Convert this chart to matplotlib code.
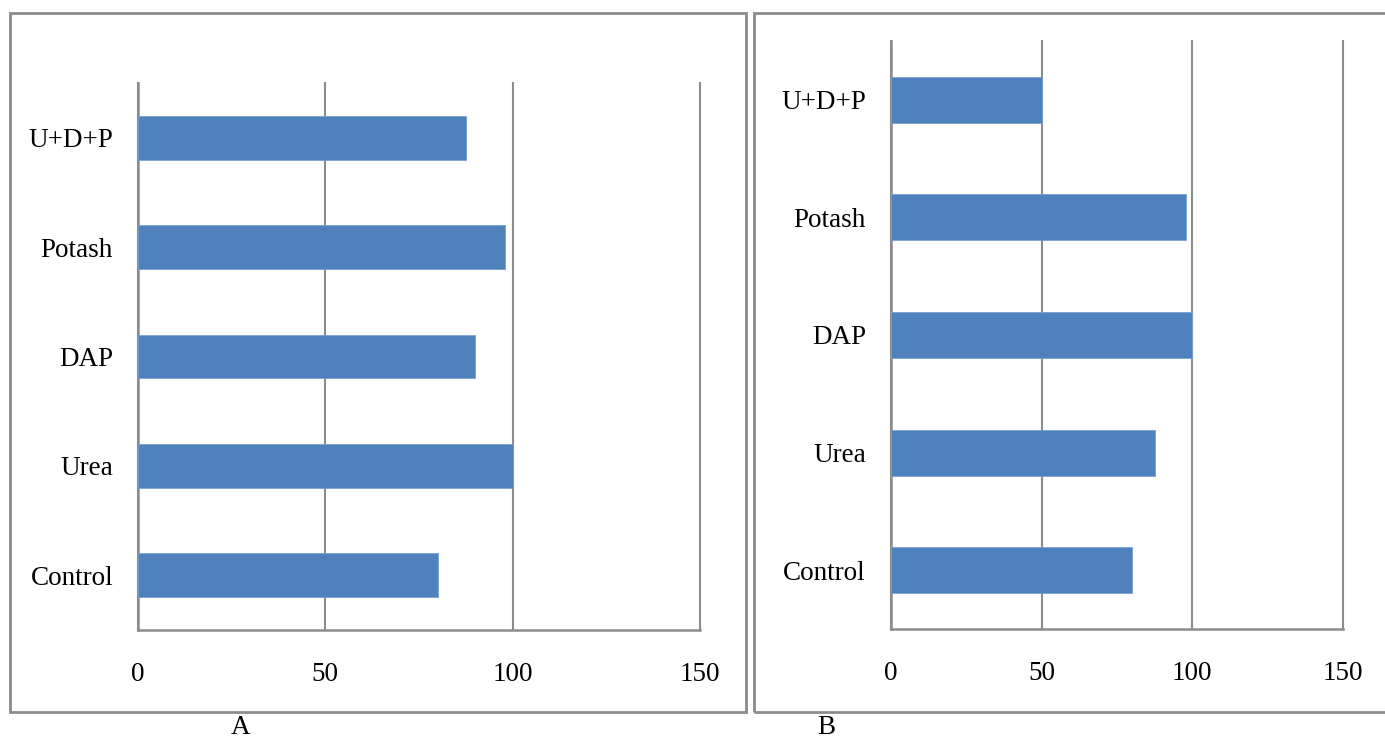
import matplotlib
matplotlib.use("Agg")
import matplotlib.pyplot as plt
from matplotlib.patches import Rectangle

categories = ["Control", "Urea", "DAP", "Potash", "U+D+P"]
values_a = [80, 100, 90, 98, 87.5]
values_b = [80, 87.5, 100, 98, 50]
xticks = [0, 50, 100, 150]
panel_labels = ["A", "B"]

W, H = 1385, 738
fig = plt.figure(figsize=(W / 100, H / 100), dpi=100)
plt.rcParams['font.family'] = ['Liberation Serif', 'DejaVu Serif']

gray = "#8c8c8c"
bar_color = "#4F81BD"

def fx(px):
    return px / W

def fy(py):
    return 1 - py / H

# frames
for (x0, x1) in [(10, 746), (754, 1392)]:
    fig.patches.append(Rectangle((fx(x0), fy(712)), fx(x1 - x0), (712 - 12.5) / H,
                                 transform=fig.transFigure, fill=False,
                                 edgecolor=gray, linewidth=2))

def draw(rect, vals, bh):
    ax = fig.add_axes(rect)
    ax.barh(range(len(categories)), vals, height=bh, color=bar_color,
            edgecolor="#7aa0d0", linewidth=0.6, zorder=3)
    ax.set_xlim(0, 150)
    ax.set_ylim(-0.5, len(categories) - 0.5)
    ax.set_xticks(xticks)
    ax.set_xticklabels([str(t) for t in xticks])
    ax.set_yticks(range(len(categories)))
    ax.set_yticklabels(categories)
    ax.tick_params(axis='x', length=0, pad=23, labelsize=19.5)
    ax.tick_params(axis='y', length=0, pad=18, labelsize=19.5)
    ax.grid(axis='x', color=gray, linewidth=1.5, zorder=1)
    for line in ax.get_xgridlines():
        line.set_clip_on(False)
    for s in ['top', 'right']:
        ax.spines[s].set_visible(False)
    for s in ['left', 'bottom']:
        ax.spines[s].set_color(gray)
        ax.spines[s].set_linewidth(1.8)
    ax.set_facecolor('none')
    return ax

draw([fx(138), fy(630), fx(700 - 138), (630 - 83) / H], values_a, 0.4)
draw([fx(891), fy(629), fx(1343 - 891), (629 - 41) / H], values_b, 0.39)

fig.text(fx(241), fy(728), panel_labels[0], ha='center', va='center', fontsize=19.5)
fig.text(fx(826), fy(728), panel_labels[1], ha='center', va='center', fontsize=19.5)

fig.savefig("out.png", dpi=100)
